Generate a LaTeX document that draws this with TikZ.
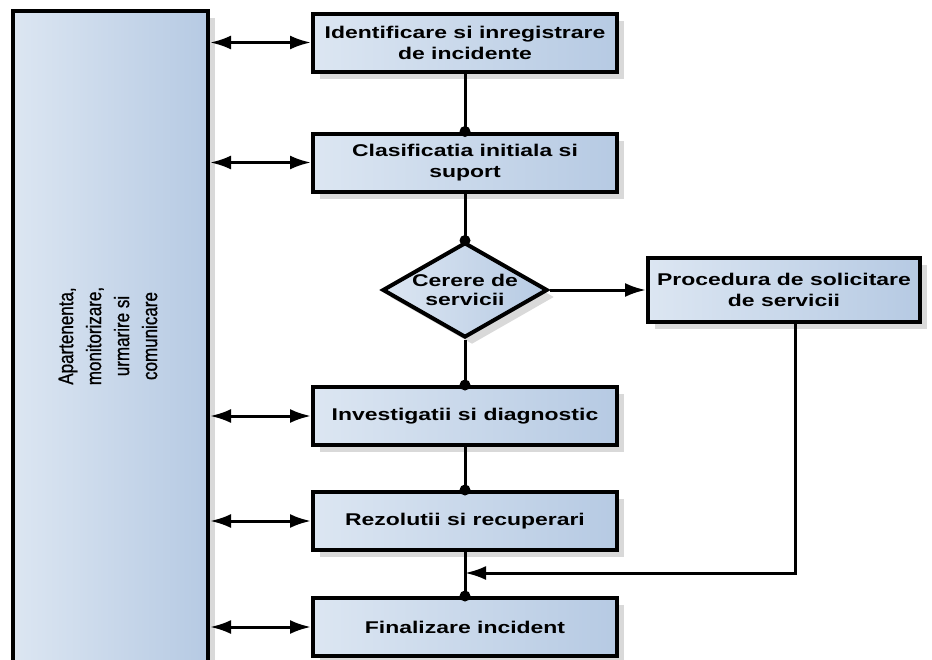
\documentclass[tikz,border=0pt]{standalone}
\usepackage{fontspec}
\setmainfont{Liberation Sans}
\newfontfamily\boxfont[FakeStretch=1.35]{Liberation Sans}
\newfontfamily\sidefont[FakeStretch=0.81,FakeBold=0.8]{Liberation Sans}
\usetikzlibrary{arrows.meta,shapes.geometric,shadows}
\definecolor{fillL}{HTML}{DCE6F2}
\definecolor{fillR}{HTML}{B6CAE3}
\tikzset{
  boxshade/.style={left color=fillL, right color=fillR, shading angle=90},
  softshadow/.style={drop shadow={shadow xshift=7pt, shadow yshift=-7pt, fill=black!15, opacity=1}},
  stepbox/.style={draw=black, line width=4pt, boxshade, softshadow,
    minimum width=304pt, minimum height=58pt, inner sep=0pt, align=center,
    font=\boxfont\bfseries\fontsize{17}{21}\selectfont},
  decision/.style={diamond, draw=black, line width=4pt, boxshade, softshadow,
    minimum width=165pt, minimum height=95pt, inner sep=0pt},
  flow/.style={line width=3pt},
  dbl/.style={line width=3pt, {Latex[length=21pt,width=14pt]}-{Latex[length=21pt,width=14pt]}},
  tip/.style={line width=3pt, -{Latex[length=21pt,width=14pt]}},
  joint/.style={circle, fill=black, inner sep=0pt, minimum size=11pt},
}
\begin{document}
\begin{tikzpicture}[x=1pt,y=-1pt]
\useasboundingbox (0,0) rectangle (932,659);
\clip (0,0) rectangle (932,659);
\fill[white] (0,0) rectangle (932,659);

% side column
\node[draw=black, line width=4pt, boxshade, softshadow, minimum width=195pt,
  minimum height=690pt, inner sep=0pt] (side) at (110.5,356) {};
\node[rotate=90, align=center, font=\sidefont\fontsize{21}{28}\selectfont] (sidetext) at (108,336)
  {Apartenenta,\\monitorizare,\\urmarire si\\comunicare};

% process steps
\node[stepbox] (b1) at (465,42.5) {Identificare si inregistrare\\de incidente};
\node[stepbox] (b2) at (465,162.5) {Clasificatia initiala si\\suport};
\node[decision, label={[font=\boxfont\bfseries\fontsize{17}{19}\selectfont, align=center]center:{Cerere de\\servicii}}] (dec) at (465,290) {};
\node[stepbox, minimum width=272pt, minimum height=64pt] (proc) at (784,290) {Procedura de solicitare\\de servicii};
\node[stepbox] (b3) at (465,416) {Investigatii si diagnostic};
\node[stepbox] (b4) at (465,521) {Rezolutii si recuperari};
\node[stepbox] (b5) at (465,627) {Finalizare incident};

% vertical flow with junction dots
\draw[flow] (b1.south) -- (b2.north);
\draw[flow] (b2.south) -- (dec.north);
\draw[flow] (dec.south) -- (b3.north);
\draw[flow] (b3.south) -- (b4.north);
\draw[flow] (b4.south) -- (b5.north);
\node[joint] (j2) at (b2.north) {};
\node[joint] (jd) at (dec.north) {};
\node[joint] (j3) at (b3.north) {};
\node[joint] (j4) at (b4.north) {};
\node[joint] (j5) at (b5.north) {};

% branch to service request procedure and back
\draw[tip] (dec.east) -- (proc.west);
\coordinate (turn) at (795,573);
\draw[tip] (proc.south -| turn) -- (turn) -- (turn -| b5.north);

% links to the side column
\foreach \b in {b1,b2,b3,b4,b5}
  \draw[dbl] (side.east |- \b.west) -- (\b.west);
\end{tikzpicture}
\end{document}
